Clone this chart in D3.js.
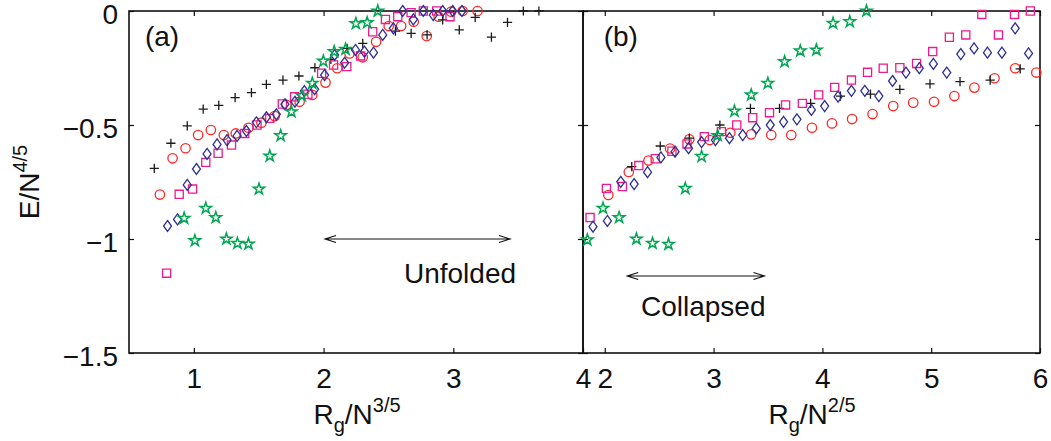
<!DOCTYPE html>
<html><head><meta charset="utf-8">
<script src="https://cdn.jsdelivr.net/npm/d3@7"></script>
<style>body{margin:0;background:#fff}svg{display:block}text{font-family:"Liberation Sans",Arial,Helvetica,sans-serif;fill:#111}</style>
</head><body><svg id="c" width="1051" height="441"></svg>
<script>
// ---------- Panel (a): x = Rg/N^(3/5) ----------
const aPlusX=[0.695,0.823,0.949,1.072,1.192,1.318,1.444,1.559,1.687,1.810,1.933,2.056,2.182,2.302,2.554,2.675,2.798,2.918,3.046,3.169,3.294,3.418,3.540,3.660];
const aPlusY=[-0.690,-0.580,-0.504,-0.430,-0.414,-0.380,-0.358,-0.322,-0.303,-0.285,-0.249,-0.212,-0.164,-0.142,-0.088,-0.098,-0.105,-0.039,-0.083,-0.028,-0.115,-0.050,0,0];
const aCircX=[0.738,0.836,0.936,1.033,1.131,1.231,1.323,1.421,1.521,1.623,1.713,1.815,1.913,2.015,2.105,2.200,2.302,2.405,2.502,2.598,2.695,2.795,2.887,2.983,3.072,3.187];
const aCircY=[-0.805,-0.646,-0.602,-0.544,-0.522,-0.544,-0.537,-0.512,-0.490,-0.461,-0.412,-0.398,-0.368,-0.314,-0.251,-0.186,-0.203,-0.135,-0.066,-0.066,-0.047,-0.110,-0.025,-0.003,0,0];
const aSqX=[0.790,0.887,0.990,1.092,1.187,1.290,1.392,1.487,1.585,1.682,1.777,1.879,1.985,2.077,2.179,2.285,2.379,2.477,2.572,2.675,2.769,2.872,2.975];
const aSqY=[-1.150,-0.804,-0.781,-0.664,-0.624,-0.588,-0.537,-0.500,-0.471,-0.408,-0.376,-0.365,-0.273,-0.237,-0.244,-0.197,-0.091,-0.037,-0.025,-0.007,0,0,-0.025];
const aDiaX=[0.797,0.874,0.949,1.020,1.102,1.179,1.256,1.333,1.405,1.482,1.559,1.636,1.702,1.779,1.852,1.931,2.008,2.085,2.162,2.246,2.315,2.385,2.456,2.538,2.610,2.692,2.769,2.846,2.918,2.995,3.067];
const aDiaY=[-0.943,-0.914,-0.763,-0.693,-0.627,-0.585,-0.566,-0.548,-0.526,-0.488,-0.466,-0.453,-0.409,-0.398,-0.351,-0.343,-0.281,-0.193,-0.227,-0.171,-0.178,-0.183,-0.105,-0.076,0,-0.037,0,-0.018,0,0,0];
const aStarX=[0.925,1.008,1.092,1.169,1.251,1.336,1.421,1.502,1.585,1.669,1.752,1.833,1.913,1.998,2.082,2.169,2.249,2.336,2.418];
const aStarY=[-0.909,-1.007,-0.865,-0.906,-1.000,-1.019,-1.022,-0.781,-0.636,-0.547,-0.442,-0.371,-0.317,-0.220,-0.178,-0.168,-0.055,-0.051,0];

// ---------- Panel (b): x = Rg/N^(2/5) ----------
const bPlusX=[2.248,2.510,2.777,3.058,3.339,3.606,3.892,4.166,4.442,4.712,4.989,5.265,5.542,5.818];
const bPlusY=[-0.683,-0.592,-0.558,-0.500,-0.427,-0.427,-0.405,-0.373,-0.365,-0.344,-0.320,-0.310,-0.303,-0.254];
const bCircX=[2.033,2.221,2.402,2.600,2.777,2.965,3.154,3.346,3.530,3.714,3.904,4.088,4.273,4.461,4.651,4.835,5.026,5.213,5.397,5.582,5.772,5.966];
const bCircY=[-0.807,-0.706,-0.656,-0.603,-0.563,-0.566,-0.534,-0.541,-0.544,-0.544,-0.512,-0.493,-0.474,-0.452,-0.417,-0.402,-0.398,-0.373,-0.336,-0.295,-0.251,-0.270];
const bSqX=[1.865,2.015,2.162,2.313,2.464,2.617,2.756,2.915,3.072,3.213,3.360,3.514,3.662,3.816,3.966,4.113,4.267,4.415,4.559,4.712,4.866,5.014,5.167,5.318,5.465,5.618,5.766,5.911];
const bSqY=[-0.906,-0.778,-0.770,-0.678,-0.648,-0.615,-0.583,-0.551,-0.529,-0.500,-0.468,-0.446,-0.412,-0.405,-0.368,-0.335,-0.303,-0.269,-0.251,-0.249,-0.230,-0.178,-0.115,-0.105,-0.015,-0.105,-0.015,0];
const bDiaX=[1.892,2.024,2.147,2.270,2.393,2.516,2.646,2.770,2.890,3.017,3.146,3.268,3.392,3.521,3.643,3.766,3.899,4.021,4.144,4.267,4.390,4.519,4.645,4.768,4.891,5.020,5.143,5.272,5.394,5.517,5.650,5.772,5.895];
const bDiaY=[-0.946,-0.921,-0.749,-0.759,-0.707,-0.642,-0.617,-0.602,-0.575,-0.566,-0.558,-0.544,-0.515,-0.500,-0.486,-0.475,-0.434,-0.417,-0.376,-0.350,-0.350,-0.373,-0.307,-0.270,-0.251,-0.232,-0.270,-0.189,-0.164,-0.183,-0.183,-0.076,-0.186];
const bStarX=[1.840,1.984,2.132,2.291,2.439,2.586,2.740,2.890,3.038,3.192,3.346,3.499,3.653,3.797,3.945,4.098,4.252,4.405];
const bStarY=[-1.004,-0.865,-0.906,-1.000,-1.019,-1.023,-0.778,-0.638,-0.546,-0.439,-0.368,-0.317,-0.222,-0.175,-0.171,-0.054,-0.047,0];

// ticks
const yTicks=[0,-0.5,-1,-1.5];
const aXTicks=[1,2,3,4];
const bXTicks=[2,3,4,5,6];

// ---------- drawing ----------
const svg=d3.select("#c");
const yTop=11, yBot=353;
const y=d3.scaleLinear().domain([-1.5,0]).range([yBot,yTop]);
const xa=d3.scaleLinear().domain([0.5,4]).range([129,583]);
const xb=d3.scaleLinear().domain([1.8,6]).range([583,1040]);

const col={plus:"#1a1a1a",circ:"#ff2626",sq:"#ee1a8e",dia:"#2e3192",star:"#00a651"};
const shape={
  plus:"M-4.6,0H4.6M0,-4.6V4.6",
  circ:d3.symbol(d3.symbolCircle,Math.PI*4.7*4.7)(),
  sq:d3.symbol(d3.symbolSquare,66)(),
  dia:"M0,-5.5L4,0L0,5.5L-4,0Z",
  star:d3.symbol(d3.symbolStar,40)()
};
const zip=(X,Y)=>X.map((v,i)=>[v,Y[i]]);
const panels=[
  {x:xa,ticks:aXTicks,series:[["circ",aCircX,aCircY],["plus",aPlusX,aPlusY],["sq",aSqX,aSqY],["dia",aDiaX,aDiaY],["star",aStarX,aStarY]]},
  {x:xb,ticks:bXTicks,series:[["circ",bCircX,bCircY],["plus",bPlusX,bPlusY],["sq",bSqX,bSqY],["dia",bDiaX,bDiaY],["star",bStarX,bStarY]]}
];
const fmt=d3.format("~g");
const fs=28;

panels.forEach((p,pi)=>{
  const g=svg.append("g");
  const [x0,x1]=p.x.range();
  g.append("g").attr("transform",`translate(0,${yBot})`)
    .call(d3.axisBottom(p.x).tickValues(p.ticks).tickSizeInner(-5).tickSizeOuter(0).tickPadding(15).tickFormat(fmt));
  g.append("g").attr("transform",`translate(0,${yTop})`)
    .call(d3.axisTop(p.x).tickValues(p.ticks).tickSizeInner(-5).tickSizeOuter(0).tickFormat(""));
  const la=g.append("g").attr("transform",`translate(${x0},0)`)
    .call(d3.axisLeft(y).tickValues(yTicks).tickSizeInner(-5).tickSizeOuter(0).tickPadding(11).tickFormat(pi===0?fmt:""));
  la.selectAll(".tick text").attr("dy","0.46em");
  g.append("g").attr("transform",`translate(${x1},0)`)
    .call(d3.axisRight(y).tickValues(yTicks).tickSizeInner(-5).tickSizeOuter(0).tickFormat(""));
  g.selectAll(".domain").remove();
  g.selectAll(".tick line").attr("stroke","#111").attr("stroke-width",1.2);
  g.selectAll(".tick text").attr("font-size",fs).attr("font-family",null).style("fill","#111");
  g.append("rect").attr("x",x0).attr("y",yTop).attr("width",x1-x0).attr("height",yBot-yTop)
    .attr("fill","none").attr("stroke","#111").attr("stroke-width",1.6);
  p.series.forEach(([k,X,Y])=>{
    g.append("g").selectAll("path").data(zip(X,Y)).join("path")
      .attr("transform",d=>`translate(${p.x(d[0])},${y(d[1])})`)
      .attr("d",shape[k]).attr("fill","none").attr("stroke",col[k])
      .attr("stroke-width",k==="star"?1.5:1.3);
  });
});

function xTitle(cx,sup){
  const t=svg.append("text").attr("x",cx).attr("y",424).attr("text-anchor","middle").attr("font-size",fs);
  t.append("tspan").text("R");
  t.append("tspan").attr("font-size",20).attr("dy",8).text("g");
  t.append("tspan").attr("dy",-8).text("/N");
  t.append("tspan").attr("font-size",20).attr("dy",-12).text(sup);
}
xTitle(357,"3/5");
xTitle(812,"2/5");
const yt=svg.append("text").attr("transform",`translate(39,182) rotate(-90)`).attr("text-anchor","middle").attr("font-size",fs);
yt.append("tspan").text("E/N");
yt.append("tspan").attr("font-size",20).attr("dy",-12).text("4/5");

svg.append("text").attr("x",xa(0.623)).attr("y",y(-0.154)).attr("font-size",28).text("(a)");
svg.append("text").attr("x",xb(1.99)).attr("y",y(-0.154)).attr("font-size",28).text("(b)");

function dArrow(sc,xL,xR,yv){
  const a=sc(xL),b=sc(xR),yy=y(yv);
  svg.append("path").attr("d",`M${a},${yy}H${b}M${a+11},${yy-3.5}L${a},${yy}L${a+11},${yy+3.5}M${b-11},${yy-3.5}L${b},${yy}L${b-11},${yy+3.5}`)
    .attr("fill","none").attr("stroke","#111").attr("stroke-width",1.1);
}
dArrow(xa,2.011,3.438,-1.0);
dArrow(xb,2.206,3.468,-1.162);
svg.append("text").attr("x",xa(3.052)).attr("y",y(-1.193)).attr("text-anchor","middle").attr("font-size",fs).text("Unfolded");
svg.append("text").attr("x",xb(2.905)).attr("y",y(-1.338)).attr("text-anchor","middle").attr("font-size",fs).text("Collapsed");
</script></body></html>
